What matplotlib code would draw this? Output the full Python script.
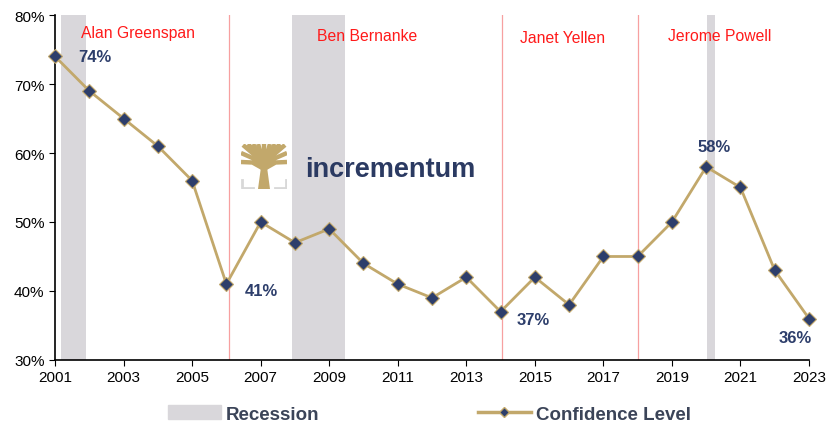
import matplotlib.pyplot as plt
import matplotlib.patches as mpatches
from matplotlib.lines import Line2D
from matplotlib.ticker import FuncFormatter

plt.rcParams['font.family'] = ['Liberation Sans', 'DejaVu Sans']

# data
years = list(range(2001, 2024))
confidence = [74, 69, 65, 61, 56, 41, 50, 47, 49, 44, 41, 39, 42, 37, 42, 38,
              45, 45, 50, 58, 55, 43, 36]
recessions = [(2001.17, 2001.9), (2007.9, 2009.46), (2020.02, 2020.26)]
chair_changes = [2006.08, 2014.04, 2018.01]
chairs = ['Alan Greenspan', 'Ben Bernanke', 'Janet Yellen', 'Jerome Powell']
chair_label_x = [2003.42, 2010.1, 2015.8, 2020.4]
chair_label_y = [77.5, 77.0, 76.8, 77.1]

gold = '#c2a86b'
navy = '#2d3e6b'
band = '#d9d7db'

fig = plt.figure(figsize=(8.35, 4.27), dpi=100)
ax = fig.add_axes([0.0659, 0.1546, 0.9030, 0.8079])

for x0, x1 in recessions:
    ax.axvspan(x0, x1, color=band, lw=0, zorder=0)
for x in chair_changes:
    ax.axvline(x, color='#f7a0a0', lw=0.9, zorder=1)

for name, x, y in zip(chairs, chair_label_x, chair_label_y):
    ax.text(x, y, name, color='#ff1a1a', fontsize=11.3, ha='center', va='center')

ax.plot(years, confidence, color=gold, lw=2, marker='D', markersize=7,
        markerfacecolor=navy, markeredgecolor=gold, markeredgewidth=0.8,
        zorder=3, clip_on=False)

# value labels: year -> (x, y, ha)
labels = {2001: (2001.67, 74.0, 'left'), 2006: (2006.55, 40.1, 'left'),
          2014: (2014.47, 35.8, 'left'), 2020: (2020.23, 60.9, 'center'),
          2023: (2022.6, 33.2, 'center')}
for yr, (x, y, ha) in labels.items():
    v = confidence[years.index(yr)]
    ax.text(x, y, f'{v}%', color=navy, fontsize=12, fontweight='bold',
            ha=ha, va='center')

# logo
ax.text(2008.3, 56.7, 'incrementum', color='#2b3a62', fontsize=19.5,
        fontweight='bold', ha='left', va='baseline', zorder=2)
lax = fig.add_axes([241 / 835, (427 - 190) / 427, 46 / 835, 45 / 427])
lax.set_xlim(0, 46)
lax.set_ylim(0, 45)
lax.axis('off')
lax.add_patch(mpatches.Polygon([(17, 0), (29, 0), (26, 22), (20, 22)], color=gold, lw=0))
for tx, ty in [(2, 44), (7, 45), (12, 45), (17, 45), (23, 45), (29, 45), (34, 45),
               (39, 45), (44, 44), (0, 36), (46, 36), (0, 27), (46, 27)]:
    lax.plot([23, (23 + tx) / 2, tx], [20, (20 + ty) / 2 + 3, ty], color=gold,
             lw=3.2, solid_capstyle='butt')
lax.plot([1, 1, 12], [9, 1, 1], color='#d8d8d8', lw=2)
lax.plot([45, 45, 34], [9, 1, 1], color='#d8d8d8', lw=2)

ax.set_xlim(2001, 2023)
ax.set_ylim(30, 80)
ax.set_xticks(range(2001, 2024, 2))
ax.set_yticks(range(30, 81, 10))
ax.yaxis.set_major_formatter(FuncFormatter(lambda v, p: f'{v:.0f}%'))
ax.tick_params(labelsize=11, length=4, direction='out', colors='black')
for s in ['top', 'right']:
    ax.spines[s].set_visible(False)
ax.spines['left'].set_linewidth(1.2)
ax.spines['bottom'].set_linewidth(1.2)

# legend, two separate entries
h1 = mpatches.Patch(color=band, label='Recession')
h2 = Line2D([], [], color=gold, lw=2.5, marker='D', markersize=5,
            markerfacecolor=navy, markeredgecolor=gold, label='Confidence Level')
for h, x in [(h1, 168), (h2, 478)]:
    leg = fig.legend(handles=[h], loc='center left', bbox_to_anchor=(x / 835, 12 / 427),
                     frameon=False, borderpad=0, borderaxespad=0, handlelength=2.8,
                     handletextpad=0.27, prop={'size': 13.5, 'weight': 'bold'})
    for t in leg.get_texts():
        t.set_color('#3b4458')

fig.savefig('out.png', dpi=100)
